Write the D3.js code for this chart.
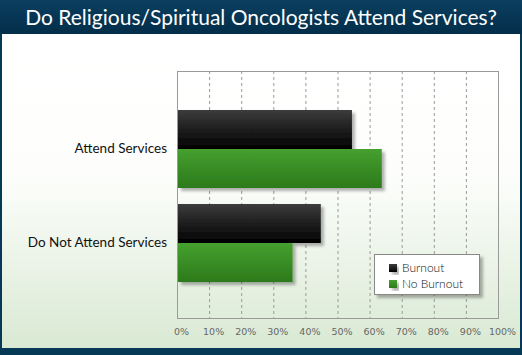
<!DOCTYPE html>
<html><head><meta charset="utf-8">
<script src="https://cdn.jsdelivr.net/npm/d3@7"></script>
<style>html,body{margin:0;padding:0;background:#fff;}svg{display:block;}</style>
</head><body>
<script>
const title = "Do Religious/Spiritual Oncologists Attend Services?";
const categories = ["Attend Services", "Do Not Attend Services"];
const seriesNames = ["Burnout", "No Burnout"];
const burnout = [54.5, 44.8];
const noBurnout = [63.8, 36];
const ticks = [0,10,20,30,40,50,60,70,80,90,100];

(function(){
const W = 522, H = 355;
const svg = d3.select("body").append("svg").attr("width", W).attr("height", H);
const defs = svg.append("defs");

const bg = defs.append("linearGradient").attr("id","bg").attr("x1",0).attr("y1",0).attr("x2",0).attr("y2",1);
bg.append("stop").attr("offset","0%").attr("stop-color","#ffffff");
bg.append("stop").attr("offset","45%").attr("stop-color","#fdfefc");
bg.append("stop").attr("offset","100%").attr("stop-color","#d9e9d3");

const tb = defs.append("linearGradient").attr("id","tb").attr("x1",0).attr("y1",0).attr("x2",0).attr("y2",1);
tb.append("stop").attr("offset","0%").attr("stop-color","#0b3f60");
tb.append("stop").attr("offset","100%").attr("stop-color","#022e49");

const gBlack = defs.append("linearGradient").attr("id","gb").attr("x1",0).attr("y1",0).attr("x2",0).attr("y2",1);
gBlack.append("stop").attr("offset","0%").attr("stop-color","#3c3c3c");
gBlack.append("stop").attr("offset","100%").attr("stop-color","#000000");
const gGreen = defs.append("linearGradient").attr("id","gg").attr("x1",0).attr("y1",0).attr("x2",0).attr("y2",1);
gGreen.append("stop").attr("offset","0%").attr("stop-color","#45a02f");
gGreen.append("stop").attr("offset","100%").attr("stop-color","#2c7a1b");

const sh = defs.append("filter").attr("id","sh").attr("x","-10%").attr("y","-10%").attr("width","130%").attr("height","140%");
sh.append("feDropShadow").attr("dx",3).attr("dy",3).attr("stdDeviation",1.5).attr("flood-color","#000").attr("flood-opacity",0.3);

// frame
svg.append("rect").attr("width",W).attr("height",H).attr("fill","#053955");
svg.append("rect").attr("x",2).attr("y",34).attr("width",W-4).attr("height",314).attr("fill","url(#bg)");
svg.append("rect").attr("x",0).attr("y",0).attr("width",W).attr("height",34).attr("fill","url(#tb)");
svg.append("text").attr("x",261).attr("y",25).attr("text-anchor","middle")
  .attr("font-family","Lato, 'Open Sans', sans-serif").attr("font-size",21).attr("fill","#fff")
  .text(title);

const x = d3.scaleLinear().domain([0,100]).range([177,498]);
const y = d3.scaleBand().domain(categories).range([102,290]).paddingInner(0.17).paddingOuter(0.085);
const y1 = d3.scaleBand().domain(seriesNames).range([0, y.bandwidth()]);

// plot border & grid
const pTop = 71, pBottom = 318;
svg.append("g").selectAll("line").data(ticks.slice(1,-1)).join("line")
  .attr("x1",d=>x(d)+0.5).attr("x2",d=>x(d)+0.5).attr("y1",pTop).attr("y2",pBottom)
  .attr("stroke","#9a9a9a").attr("stroke-dasharray","3,3");
svg.append("rect").attr("x",x(0)+0.5).attr("y",pTop+0.5).attr("width",x(100)-x(0)).attr("height",pBottom-pTop)
  .attr("fill","none").attr("stroke","#9a9a9a");

// bars
const data = categories.map((c,i)=>({c, vals:[{s:seriesNames[0],v:burnout[i],f:"url(#gb)"},{s:seriesNames[1],v:noBurnout[i],f:"url(#gg)"}]}));
const gcat = svg.append("g").selectAll("g").data(data).join("g").attr("transform",d=>`translate(0,${y(d.c)})`);
gcat.selectAll("rect").data(d=>d.vals).join("rect")
  .attr("x",x(0)+1).attr("y",d=>y1(d.s)).attr("width",d=>x(d.v)-x(0)-1).attr("height",y1.bandwidth())
  .attr("fill",d=>d.f).attr("filter","url(#sh)");

// category labels
svg.append("g").selectAll("text").data(categories).join("text")
  .attr("x",167).attr("y",d=>y(d)+y.bandwidth()/2+4).attr("text-anchor","end")
  .attr("font-family","Lato, sans-serif").attr("font-size",13.5).attr("fill","#111").text(d=>d);

// tick labels
const xAxis = d3.axisBottom(x).tickValues(ticks).tickFormat(d=>d+"%").tickSize(0);
const ax = svg.append("g").attr("transform",`translate(4,${pBottom+7})`).call(xAxis);
ax.select(".domain").remove();
ax.selectAll("text").attr("font-family","'DejaVu Sans', sans-serif").attr("font-size",9.5).attr("fill","#666");

// legend
const lg = svg.append("g").attr("transform","translate(374,254)");
lg.append("rect").attr("x",0.5).attr("y",0.5).attr("width",105).attr("height",40).attr("fill","#fff").attr("stroke","#888").attr("filter","url(#sh)");
const fills = ["url(#gb)","url(#gg)"];
seriesNames.forEach((s,i)=>{
  lg.append("rect").attr("x",15).attr("y",10+i*16).attr("width",8).attr("height",8).attr("fill",fills[i]).attr("filter","url(#sh)");
  lg.append("text").attr("x",28).attr("y",18+i*16).attr("font-family","Lato, sans-serif").attr("font-weight",300).attr("font-size",12).attr("fill","#111").text(s);
});
})();
</script>
</body></html>
